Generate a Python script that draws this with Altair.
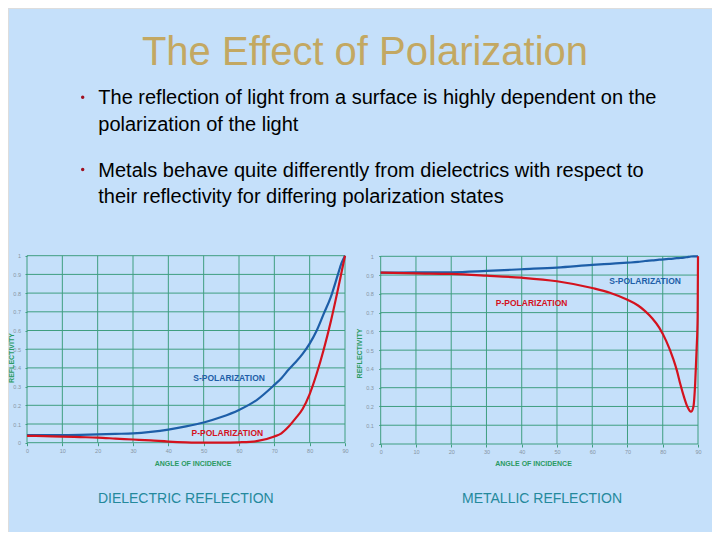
import altair as alt
import pandas as pd

# ---------------- text ----------------
TITLE = "The Effect of Polarization"
BULLET_1 = ["The reflection of light from a surface is highly dependent on the",
            "polarization of the light"]
BULLET_2 = ["Metals behave quite differently from dielectrics with respect to",
            "their reflectivity for differing polarization states"]
CAPTIONS = ["DIELECTRIC REFLECTION", "METALLIC REFLECTION"]
X_TITLE = "ANGLE OF INCIDENCE"
Y_TITLE = "REFLECTIVITY"
S_LABEL = "S-POLARIZATION"
P_LABEL = "P-POLARIZATION"

# ---------------- ticks ----------------
x_ticks = [0, 10, 20, 30, 40, 50, 60, 70, 80, 90]
y_ticks = [0, 0.1, 0.2, 0.3, 0.4, 0.5, 0.6, 0.7, 0.8, 0.9, 1.0]

# ---------------- dielectric reflection ----------------
diel_angle = [0, 5, 10, 15, 20, 25, 30, 35, 40, 45, 50, 55, 60, 65, 70,
              72, 74, 76, 78, 80, 82, 84, 86, 88, 89, 90]
diel_s = [0.040, 0.040, 0.041, 0.042, 0.044, 0.047, 0.050, 0.058, 0.070, 0.087,
          0.108, 0.137, 0.175, 0.228, 0.309, 0.345, 0.390, 0.430, 0.475, 0.530,
          0.600, 0.690, 0.780, 0.900, 0.960, 1.000]
diel_p = [0.037, 0.035, 0.033, 0.030, 0.027, 0.022, 0.017, 0.012, 0.006, 0.002,
          0.000, 0.000, 0.002, 0.008, 0.033, 0.050, 0.085, 0.130, 0.180, 0.260,
          0.370, 0.500, 0.650, 0.820, 0.910, 1.000]

# ---------------- metallic reflection ----------------
metal_angle = [0, 10, 20, 30, 40, 50, 60, 65, 70, 73, 75, 77, 79, 81, 83, 84,
               85, 86, 87, 88, 88.7, 89.2, 89.6, 89.9, 90]
metal_s = [0.913, 0.914, 0.915, 0.922, 0.931, 0.940, 0.954, 0.960, 0.966, 0.970,
           0.975, 0.978, 0.982, 0.985, 0.988, 0.990, 0.991, 0.993, 0.996, 0.999,
           1.000, 1.000, 1.000, 1.000, 1.000]
metal_p = [0.913, 0.909, 0.906, 0.897, 0.886, 0.867, 0.831, 0.806, 0.768, 0.738,
           0.708, 0.670, 0.620, 0.548, 0.452, 0.392, 0.318, 0.252, 0.198, 0.172,
           0.199, 0.323, 0.500, 0.678, 1.000]

# ---------------- style ----------------
FONT = "Liberation Sans"
BG = "#c5e0fa"
GRID = "#3f9e80"
BLUE = "#1d5ea8"
RED = "#d4121e"
GOLD = "#c3a862"
TEAL = "#24899c"
AXIS_GREEN = "#2a9a62"
LABEL_GRAY = "#8795a3"
BULLET_RED = "#a01020"

W, H = 704, 524


def panel(angle, s_vals, p_vals, xr, yr, x_off, y_off, xt, yt, ylab_pad,
          s_pos, p_pos):
    sx = alt.Scale(domain=[0, 90], range=xr, nice=False, zero=False)
    sy = alt.Scale(domain=[0, 1], range=yr, nice=False, zero=False)
    ax = alt.Axis(orient="bottom", offset=x_off, values=x_ticks, format="d",
                  grid=False, domain=False, ticks=True, tickSize=3,
                  tickColor=GRID, labelFontSize=5.5, labelColor=LABEL_GRAY,
                  labelPadding=2.5, labelFlush=False, labelOverlap=False,
                  labelFont=FONT, title=X_TITLE, titleX=xt[0], titleY=xt[1],
                  titleAlign="center", titleBaseline="middle", titleFontSize=7,
                  titleFontWeight="bold", titleColor=AXIS_GREEN, titleFont=FONT)
    ay = alt.Axis(orient="left", offset=y_off, values=y_ticks, format=".1~f",
                  grid=False, domain=False, ticks=True, tickSize=2,
                  tickColor=GRID, labelFontSize=5.5, labelColor=LABEL_GRAY,
                  labelPadding=ylab_pad, labelFlush=False, labelOverlap=False,
                  labelFont=FONT, title=Y_TITLE, titleX=yt[0], titleY=yt[1],
                  titleAngle=270, titleAlign="center", titleBaseline="middle",
                  titleFontSize=7, titleFontWeight="bold",
                  titleColor=AXIS_GREEN, titleFont=FONT)

    vgrid = alt.Chart(pd.DataFrame({"angle": x_ticks})).mark_rule(
        color=GRID, strokeWidth=1).encode(
        x=alt.X("angle:Q", scale=sx, axis=ax),
        y=alt.YDatum(0, scale=sy, axis=ay, type="quantitative"),
        y2=alt.Y2Datum(1))
    hgrid = alt.Chart(pd.DataFrame({"refl": y_ticks})).mark_rule(
        color=GRID, strokeWidth=1).encode(
        y=alt.Y("refl:Q", scale=sy, axis=ay),
        x=alt.XDatum(0, scale=sx, axis=ax, type="quantitative"),
        x2=alt.X2Datum(90))

    df = pd.DataFrame({"angle": angle, "s": s_vals, "p": p_vals})
    s_line = alt.Chart(df).mark_line(color=BLUE, strokeWidth=2.2,
                                     interpolate="monotone").encode(
        x=alt.X("angle:Q", scale=sx, axis=ax),
        y=alt.Y("s:Q", scale=sy, axis=ay))
    p_line = alt.Chart(df).mark_line(color=RED, strokeWidth=2.2,
                                     interpolate="monotone").encode(
        x=alt.X("angle:Q", scale=sx, axis=ax),
        y=alt.Y("p:Q", scale=sy, axis=ay))

    s_txt = alt.Chart(pd.DataFrame({"t": [S_LABEL]})).mark_text(
        color=BLUE, fontSize=8.5, fontWeight="bold", font=FONT,
        align="center", baseline="middle").encode(
        text="t:N",
        x=alt.XDatum(s_pos[0], scale=sx, axis=ax, type="quantitative"),
        y=alt.YDatum(s_pos[1], scale=sy, axis=ay, type="quantitative"))
    p_txt = alt.Chart(pd.DataFrame({"t": [P_LABEL]})).mark_text(
        color=RED, fontSize=8.5, fontWeight="bold", font=FONT,
        align="center", baseline="middle").encode(
        text="t:N",
        x=alt.XDatum(p_pos[0], scale=sx, axis=ax, type="quantitative"),
        y=alt.YDatum(p_pos[1], scale=sy, axis=ay, type="quantitative"))

    return alt.layer(vgrid, hgrid, s_line, p_line, s_txt, p_txt)


left = panel(diel_angle, diel_s, diel_p,
             xr=[19, 337], yr=[434.7, 247.7],
             x_off=434.7 - H, y_off=-19,
             xt=(184.5, 20.6), yt=(-15.5, 349.5), ylab_pad=4.5,
             s_pos=(57.2, 0.348), p_pos=(56.7, 0.05))
right = panel(metal_angle, metal_s, metal_p,
              xr=[372.7, 690], yr=[436, 248.3],
              x_off=436 - H, y_off=-372.7,
              xt=(525, 19.3), yt=(-21.7, 345), ylab_pad=5.4,
              s_pos=(75.0, 0.868), p_pos=(42.8, 0.75))


def text_layer(txt, x, y, size, color, align="left", weight="normal"):
    return alt.Chart(pd.DataFrame({"t": [txt]})).mark_text(
        font=FONT, fontSize=size, color=color, align=align,
        baseline="alphabetic", fontWeight=weight).encode(
        text="t:N", x=alt.value(x), y=alt.value(y))


def dot_layer(x, y):
    return alt.Chart(pd.DataFrame({"t": ["•"]})).mark_circle(
        color=BULLET_RED, size=12, opacity=1).encode(
        x=alt.value(x), y=alt.value(y))


header = [
    text_layer(TITLE, 357, 57, 40, GOLD, align="center"),
    dot_layer(74.7, 89.3),
    text_layer(BULLET_1[0], 90.3, 96.3, 20, "#000000"),
    text_layer(BULLET_1[1], 90.3, 123, 20, "#000000"),
    dot_layer(74.7, 161.5),
    text_layer(BULLET_2[0], 90.3, 168.5, 20, "#000000"),
    text_layer(BULLET_2[1], 90.3, 195, 20, "#000000"),
    text_layer(CAPTIONS[0], 177.8, 495, 14, TEAL, align="center"),
    text_layer(CAPTIONS[1], 534, 495, 14, TEAL, align="center"),
]

chart = alt.layer(*header, left, right).resolve_scale(
    x="independent", y="independent").resolve_axis(
    x="independent", y="independent").properties(
    width=W, height=H, autosize=alt.AutoSizeParams(type="none"),
    padding=0, background=BG).configure_view(strokeWidth=0).configure(
    font=FONT)

chart.save("out.html", embed_options={"renderer": "svg", "actions": False})
